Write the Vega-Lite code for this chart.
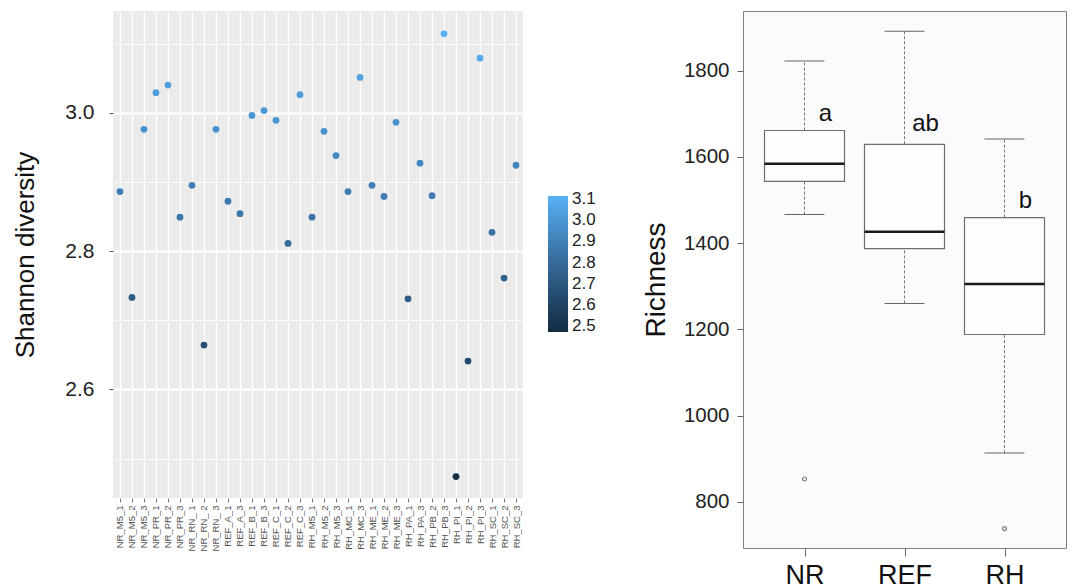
{
  "$schema": "https://vega.github.io/schema/vega-lite/v6.json",
  "padding": {"left": 12, "top": 10, "right": 0, "bottom": 0},
  "background": "white",
  "config": {"font": "Liberation Sans", "concat": {"spacing": 118}},
  "datasets": {
    "shannon": [
      {"sample": "NR_M5_1", "shannon": 2.886},
      {"sample": "NR_M5_2", "shannon": 2.733},
      {"sample": "NR_M5_3", "shannon": 2.976},
      {"sample": "NR_PR_1", "shannon": 3.029},
      {"sample": "NR_PR_2", "shannon": 3.040},
      {"sample": "NR_PR_3", "shannon": 2.849},
      {"sample": "NR_RN_ 1", "shannon": 2.895},
      {"sample": "NR_RN_ 2", "shannon": 2.664},
      {"sample": "NR_RN_ 3", "shannon": 2.976},
      {"sample": "REF_A_1", "shannon": 2.872},
      {"sample": "REF_A_3", "shannon": 2.854},
      {"sample": "REF_B_1", "shannon": 2.996},
      {"sample": "REF_B_3", "shannon": 3.003},
      {"sample": "REF_C_1", "shannon": 2.989},
      {"sample": "REF_C_2", "shannon": 2.811},
      {"sample": "REF_C_3", "shannon": 3.026},
      {"sample": "RH_M5_1", "shannon": 2.849},
      {"sample": "RH_M5_2", "shannon": 2.973},
      {"sample": "RH_M5_3", "shannon": 2.938},
      {"sample": "RH_MC_1", "shannon": 2.886},
      {"sample": "RH_MC_3", "shannon": 3.051},
      {"sample": "RH_ME_1", "shannon": 2.895},
      {"sample": "RH_ME_2", "shannon": 2.879},
      {"sample": "RH_ME_3", "shannon": 2.986},
      {"sample": "RH_PA_1", "shannon": 2.731},
      {"sample": "RH_PA_3", "shannon": 2.927},
      {"sample": "RH_PB_2", "shannon": 2.880},
      {"sample": "RH_PB_3", "shannon": 3.114},
      {"sample": "RH_PI_1", "shannon": 2.474},
      {"sample": "RH_PI_2", "shannon": 2.641},
      {"sample": "RH_PI_3", "shannon": 3.079},
      {"sample": "RH_SC_1", "shannon": 2.827},
      {"sample": "RH_SC_2", "shannon": 2.761},
      {"sample": "RH_SC_3", "shannon": 2.924}
    ],
    "rich": [
      {"group": "NR", "lower": 1466, "q1": 1543, "median": 1584, "q3": 1661, "upper": 1822},
      {"group": "REF", "lower": 1260, "q1": 1387, "median": 1426, "q3": 1629, "upper": 1891},
      {"group": "RH", "lower": 913, "q1": 1188, "median": 1305, "q3": 1459, "upper": 1641}
    ],
    "outliers": [
      {"group": "NR", "richness": 853},
      {"group": "RH", "richness": 738}
    ],
    "letters": [
      {"group": "NR", "label": "a", "y": 1700},
      {"group": "REF", "label": "ab", "y": 1675},
      {"group": "RH", "label": "b", "y": 1498}
    ]
  },
  "hconcat": [
    {
      "width": 410,
      "height": 487,
      "view": {"fill": "#ebebeb", "stroke": null},
      "data": {"name": "shannon"},
      "mark": {"type": "circle", "size": 46, "opacity": 1},
      "encoding": {
        "x": {
          "field": "sample", "type": "nominal", "sort": null,
          "scale": {"type": "point", "padding": 0.58},
          "axis": {
            "title": null, "labelAngle": 270, "labelFontSize": 9.5, "labelColor": "#555555",
            "grid": true, "gridColor": "white", "gridWidth": 1.2,
            "domain": false, "tickColor": "#777777", "tickSize": 4, "labelPadding": 3
          }
        },
        "y": {
          "field": "shannon", "type": "quantitative",
          "scale": {"domain": [2.443, 3.147], "nice": false, "zero": false},
          "axis": {
            "title": "Shannon diversity", "titleFontSize": 26, "titleFontWeight": "normal", "titleColor": "#111111",
            "titlePadding": 26,
            "values": [2.5, 2.6, 2.7, 2.8, 2.9, 3.0, 3.1],
            "labelExpr": "round(datum.value*10)%2==0 ? format(datum.value,'.1f') : ''",
            "labelFontSize": 21, "labelColor": "#222222", "labelPadding": 15,
            "domain": false, "tickColor": "#555555", "tickSize": 4,
            "tickOpacity": {"condition": {"test": "round(datum.value*10)%2==0", "value": 1}, "value": 0},
            "grid": true, "gridColor": "white",
            "gridWidth": {"condition": {"test": "round(datum.value*10)%2==0", "value": 1.8}, "value": 0.8}
          }
        },
        "color": {
          "field": "shannon", "type": "quantitative",
          "scale": {"domain": [2.474, 3.114], "range": ["#132B43", "#56B1F7"]},
          "legend": {
            "title": null, "orient": "none", "legendX": 435, "legendY": 185, "padding": 0,
            "gradientLength": 136, "gradientThickness": 20,
            "values": [2.5, 2.6, 2.7, 2.8, 2.9, 3.0, 3.1], "format": ".1f",
            "labelFontSize": 17, "labelColor": "#222222", "labelOffset": 4
          }
        }
      }
    },
    {
      "width": 323,
      "height": 537,
      "view": {"fill": "#fbfbfd", "stroke": "#808080", "strokeWidth": 1},
      "layer": [
        {
          "data": {"name": "rich"},
          "mark": {"type": "rule", "color": "#777777", "strokeDash": [3, 2], "strokeWidth": 1},
          "encoding": {
            "x": {"field": "group", "type": "nominal"},
            "y": {"field": "lower", "type": "quantitative"},
            "y2": {"field": "q1"}
          }
        },
        {
          "data": {"name": "rich"},
          "mark": {"type": "rule", "color": "#777777", "strokeDash": [3, 2], "strokeWidth": 1},
          "encoding": {
            "x": {"field": "group", "type": "nominal"},
            "y": {"field": "q3", "type": "quantitative"},
            "y2": {"field": "upper"}
          }
        },
        {
          "data": {"name": "rich"},
          "mark": {"type": "bar", "width": 80, "fill": "#fdfdfd", "stroke": "#6e6e6e", "strokeWidth": 1.2},
          "encoding": {
            "x": {"field": "group", "type": "nominal"},
            "y": {"field": "q1", "type": "quantitative"},
            "y2": {"field": "q3"}
          }
        },
        {
          "data": {"name": "rich"},
          "mark": {"type": "tick", "size": 40, "thickness": 1, "color": "#666666", "opacity": 1},
          "encoding": {
            "x": {"field": "group", "type": "nominal"},
            "y": {"field": "lower", "type": "quantitative"}
          }
        },
        {
          "data": {"name": "rich"},
          "mark": {"type": "tick", "size": 40, "thickness": 1, "color": "#666666", "opacity": 1},
          "encoding": {
            "x": {"field": "group", "type": "nominal"},
            "y": {"field": "upper", "type": "quantitative"}
          }
        },
        {
          "data": {"name": "rich"},
          "mark": {"type": "tick", "size": 80, "thickness": 2.5, "color": "#1a1a1a", "opacity": 1},
          "encoding": {
            "x": {"field": "group", "type": "nominal"},
            "y": {"field": "median", "type": "quantitative"}
          }
        },
        {
          "data": {"name": "outliers"},
          "mark": {"type": "point", "size": 16, "color": "#777777", "strokeWidth": 1.2, "opacity": 1},
          "encoding": {
            "x": {"field": "group", "type": "nominal"},
            "y": {"field": "richness", "type": "quantitative"}
          }
        },
        {
          "data": {"name": "letters"},
          "mark": {"type": "text", "dx": 21, "fontSize": 24, "color": "#111111", "align": "center", "baseline": "middle"},
          "encoding": {
            "x": {"field": "group", "type": "nominal"},
            "y": {"field": "y", "type": "quantitative"},
            "text": {"field": "label"}
          }
        }
      ],
      "encoding": {
        "x": {
          "field": "group", "type": "nominal",
          "scale": {"type": "point", "padding": 0.615, "domain": ["NR", "REF", "RH"]},
          "axis": {
            "title": null, "labelAngle": 0, "labelFontSize": 27, "labelColor": "#111111",
            "domain": false, "tickColor": "#666666", "tickSize": 8, "labelPadding": 6, "grid": false
          }
        },
        "y": {
          "type": "quantitative",
          "scale": {"domain": [693, 1938], "nice": false, "zero": false},
          "axis": {
            "title": "Richness", "titleFontSize": 28, "titleFontWeight": "normal", "titleColor": "#111111",
            "titlePadding": 13,
            "values": [800, 1000, 1200, 1400, 1600, 1800], "format": "d",
            "labelFontSize": 20.5, "labelColor": "#222222", "labelPadding": 8,
            "domain": false, "tickColor": "#666666", "tickSize": 6, "grid": false
          }
        }
      }
    }
  ]
}
